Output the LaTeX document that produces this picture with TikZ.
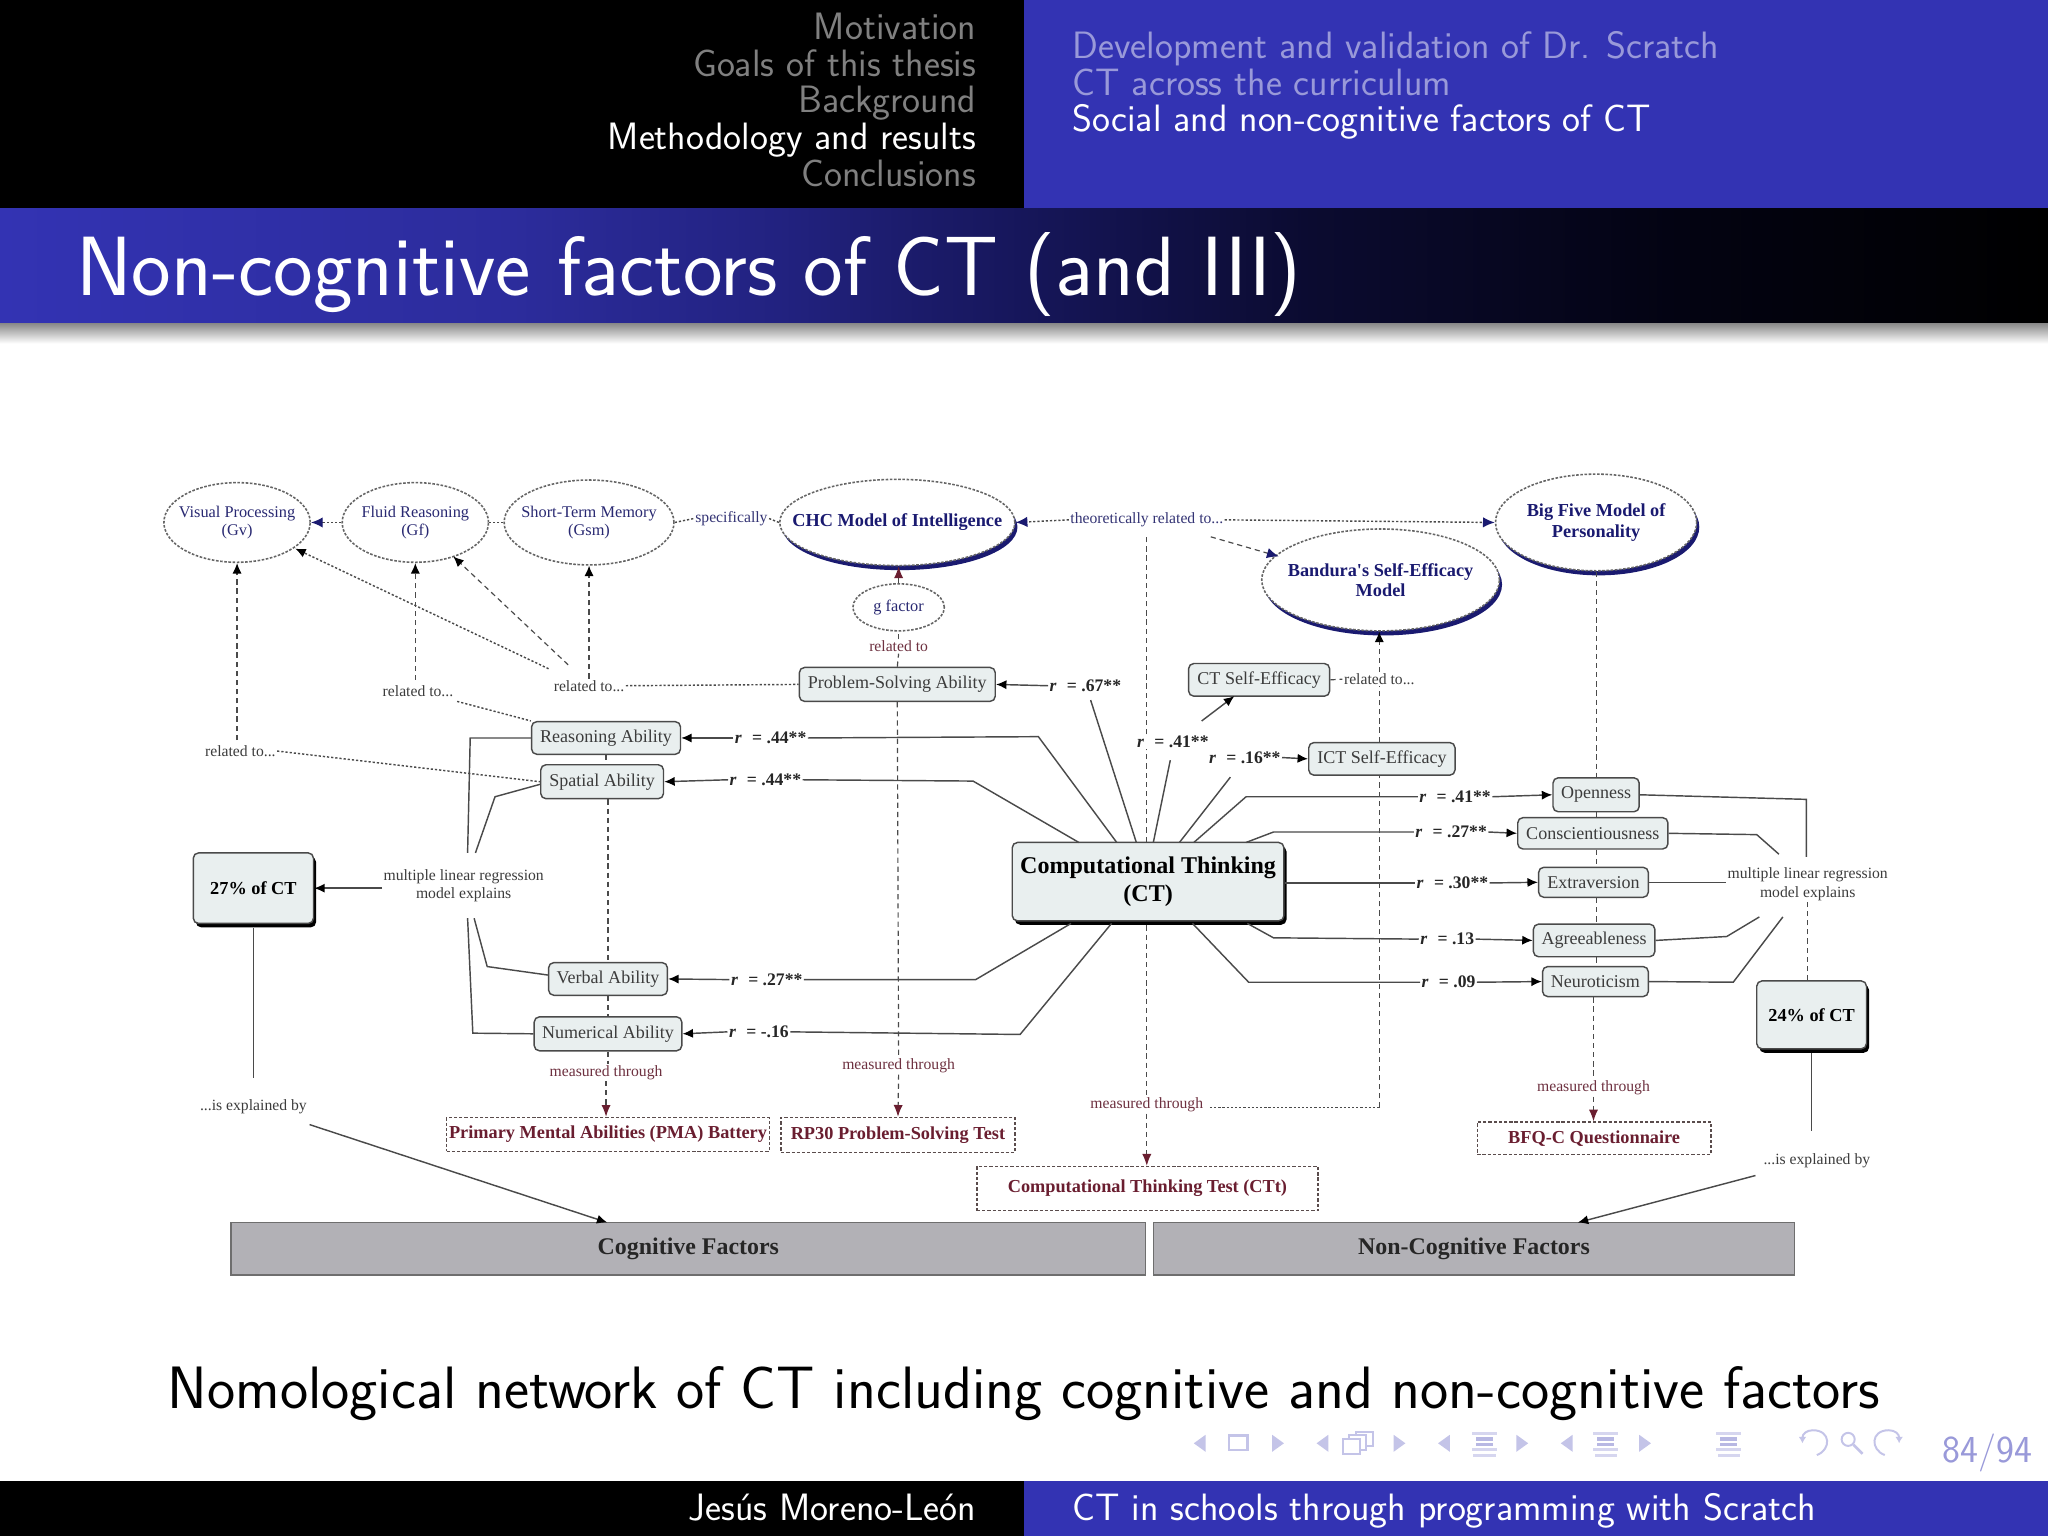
\documentclass[tikz,border=0pt]{standalone}
\usepackage{fontspec}
\usetikzlibrary{arrows.meta,shapes.geometric,shadows}
\newfontfamily\dia{Liberation Serif}
\definecolor{bluebar}{HTML}{3333B3}
\definecolor{fadeblue}{HTML}{9999D9}
\definecolor{navc}{HTML}{C4C4E8}
\definecolor{hdgray}{HTML}{808080}
\definecolor{boxfill}{HTML}{E9EFEF}
\definecolor{barfill}{HTML}{B2B1B6}
\definecolor{linec}{HTML}{4A4A4A}
\definecolor{navyd}{HTML}{1A1A70}
\definecolor{redd}{HTML}{6A1E30}
\definecolor{labc}{HTML}{3C3C3C}
\definecolor{testline}{HTML}{5A4C4C}
\definecolor{gradA}{HTML}{2C2C9C}
\definecolor{gradB}{HTML}{222280}
\definecolor{gradC}{HTML}{16165A}
\definecolor{gradD}{HTML}{0B0B30}
\definecolor{gradE}{HTML}{030312}
\pgfdeclarehorizontalshading{titlegrad}{100bp}{color(0bp)=(bluebar); color(25bp)=(bluebar); color(37.5bp)=(gradA); color(44bp)=(gradB); color(50bp)=(gradC); color(57bp)=(gradD); color(66bp)=(gradE); color(75bp)=(black); color(100bp)=(black)}
\newcommand\SlideFont[1]{\sffamily\fontsize{#1}{#1}\selectfont}
\newcommand\DiaFont[2]{\dia\fontsize{#1}{#2}\selectfont}
\newcommand\NavL[2]{\fill[navc] (#1,#2) -- (#1+9,#2-6.5) -- (#1+9,#2+6.5) -- cycle;}
\newcommand\NavR[2]{\fill[navc] (#1,#2) -- (#1-9,#2-6.5) -- (#1-9,#2+6.5) -- cycle;}
\newcommand\NavLines[2]{%
 \fill[navc!70] (#1,#2-9) rectangle (#1+19,#2-6.5);
 \fill[navc!120] (#1+3,#2-4.5) rectangle (#1+16,#2-2);
 \fill[navc!120] (#1+3,#2-0.5) rectangle (#1+16,#2+2);
 \fill[navc!70] (#1,#2+3.5) rectangle (#1+19,#2+6);
 \fill[navc!70] (#1+1,#2+8) rectangle (#1+18,#2+10.5);}
\tikzset{
 x=1pt,y=-1pt,
 hdl/.style={anchor=base east,inner sep=0pt,text=hdgray,font=\SlideFont{29.2}},
 hdr/.style={anchor=base west,inner sep=0pt,text=fadeblue,font=\SlideFont{29.2}},
 ell/.style={ellipse,draw=linec!85,dash pattern=on 2pt off 1.2pt,line width=1.2pt,fill=white,inner sep=-30pt,align=center,text=navyd!85!gray,font=\DiaFont{12.5}{14}},
 model/.style={ell,copy shadow={shadow xshift=2pt,shadow yshift=-3.5pt,fill=navyd,draw=none,solid},text=navyd,font=\DiaFont{14}{15.5}\bfseries},
 rbox/.style={rectangle,rounded corners=4pt,draw=linec,line width=1.1pt,fill=boxfill,inner sep=0pt,text=labc,font=\DiaFont{13.8}{15}},
 bigbox/.style={rbox,copy shadow={shadow xshift=2pt,shadow yshift=-3pt,fill=black,draw=none},text=black,font=\DiaFont{14}{15}\bfseries,align=center},
 testbox/.style={rectangle,draw=testline,dash pattern=on 2.5pt off 1.5pt,line width=1pt,fill=white,inner sep=0pt,text=redd,font=\DiaFont{14}{15}\bfseries},
 factor/.style={rectangle,draw=linec!80,line width=1.2pt,fill=barfill,inner sep=0pt,text=black!85,font=\DiaFont{18.3}{20}\bfseries},
 lab/.style={inner sep=1pt,text=labc,align=center,font=\DiaFont{12}{14}},
 redlab/.style={lab,text=redd!80!gray},
 bluelab/.style={lab,text=navyd!75!gray},
 rlab/.style={inner sep=1pt,text=black!85,font=\DiaFont{13.5}{15}\bfseries},
 solidl/.style={draw=linec,line width=1.1pt},
 dashl/.style={draw=linec,line width=.9pt,dash pattern=on 4pt off 3pt},
 dotl/.style={draw=linec,line width=1.1pt,dash pattern=on 1.7pt off 1.5pt},
 tip/.style={-{Latex[length=8pt,width=7pt,color=black]}},
 redtip/.style={-{Latex[length=9pt,width=7pt,color=redd]}},
 bluetip/.style={-{Latex[length=9pt,width=8pt,color=navyd]}},
 poly/.style={solidl},
}
\begin{document}
\begin{tikzpicture}
\useasboundingbox (0,0) rectangle (1568,1176);
\fill[white] (0,0) rectangle (1568,1176);
% slide chrome
\fill[black] (0,0) rectangle (784,160);
\fill[bluebar] (784,0) rectangle (1568,160);
\shade[shading=titlegrad] (0,160) rectangle (1568,248);
\shade[top color=black!45,bottom color=white] (0,248) rectangle (1568,263);
\fill[black] (0,1134) rectangle (784,1176);
\fill[bluebar] (784,1134) rectangle (1568,1176);
\node[hdl] (h1) at (747.5,30.5) {Motivation};
\node[hdl] (h2) at (747.5,58.5) {Goals of this thesis};
\node[hdl] (h3) at (747.5,86.5) {Background};
\node[hdl,text=white] (h4) at (747.5,114.5) {Methodology and results};
\node[hdl] (h5) at (747.5,142.5) {Conclusions};
\node[hdr] (s1) at (821,45) {Development and validation of Dr. Scratch};
\node[hdr] (s2) at (821,73) {CT across the curriculum};
\node[hdr,text=white] (s3) at (821,101) {Social and non-cognitive factors of CT};
\node[anchor=base west,inner sep=0pt,text=white,font=\SlideFont{64.4}] (title) at (58,226) {Non-cognitive factors of CT (and III)};
\node[anchor=base,inner sep=0pt,text=black,font=\SlideFont{45.8}] (caption) at (784,1078) {Nomological network of CT including cognitive and non-cognitive factors};
\node[hdl,text=white] (fa) at (747.5,1164) {Jesús Moreno-León};
\node[hdr,text=white] (ft) at (821,1164) {CT in schools through programming with Scratch};
\node[anchor=base east,inner sep=0pt,text=fadeblue,font=\SlideFont{29.2}] (page) at (1556,1120) {84/94};
% navigation symbols
\NavL{914}{1105}\NavR{983}{1105}
\draw[navc,line width=2pt] (941,1099) rectangle (955,1110);
\NavL{1008}{1105}\NavR{1076}{1105}
\draw[navc,line width=1.5pt,fill=white] (1038,1096) rectangle (1051,1107);
\draw[navc,line width=1.5pt,fill=white] (1033,1099) rectangle (1046,1110);
\draw[navc,line width=1.5pt,fill=white] (1028,1102) rectangle (1041,1113);
\NavL{1101}{1105}\NavR{1170}{1105}\NavLines{1127}{1105}
\NavL{1195}{1105}\NavR{1264}{1105}\NavLines{1220}{1105}
\NavLines{1314}{1105}
\draw[navc,line width=1.5pt,-{Latex[length=5pt,width=6pt]}] (1391,1114) .. controls (1402,1110) and (1402,1095) .. (1388,1095) .. controls (1383,1095) and (1380,1098) .. (1380,1105);
\draw[navc,line width=1.5pt] (1415,1102) circle[radius=5];
\draw[navc,line width=2pt] (1419,1106) -- (1426,1113);
\draw[navc,line width=1.5pt,-{Latex[length=5pt,width=6pt]}] (1443,1114) .. controls (1432,1110) and (1432,1095) .. (1446,1095) .. controls (1451,1095) and (1454,1098) .. (1454,1105);
% ellipses
\node[ell,minimum width=112pt,minimum height=61pt] (vp) at (181.5,400) {Visual Processing\\(Gv)};
\node[ell,minimum width=112pt,minimum height=61pt] (fr) at (318,400) {Fluid Reasoning\\(Gf)};
\node[ell,minimum width=130pt,minimum height=65pt] (stm) at (451,400) {Short-Term Memory\\(Gsm)};
\node[model,minimum width=180pt,minimum height=66pt] (chc) at (687,400) {CHC Model of Intelligence};
\node[ell,minimum width=70pt,minimum height=36pt] (g) at (688,465) {g factor};
\node[model,minimum width=154pt,minimum height=74pt] (big) at (1222,400) {Big Five Model of\\Personality};
\node[model,minimum width=182pt,minimum height=78pt] (ban) at (1057,444) {Bandura's Self-Efficacy\\Model};
% rounded boxes
\node[rbox,minimum width=150pt,minimum height=26pt] (ps) at (687,524) {Problem-Solving Ability};
\node[rbox,minimum width=114pt,minimum height=25pt] (rea) at (464,565) {Reasoning Ability};
\node[rbox,minimum width=94pt,minimum height=26pt] (spa) at (461,598.5) {Spatial Ability};
\node[rbox,minimum width=91pt,minimum height=25pt] (ver) at (465.5,749.5) {Verbal Ability};
\node[rbox,minimum width=113pt,minimum height=26pt] (num) at (465.5,791.5) {Numerical Ability};
\node[rbox,minimum width=108pt,minimum height=25pt] (cse) at (964,520.5) {CT Self-Efficacy};
\node[rbox,minimum width=112pt,minimum height=25pt] (ise) at (1058,581) {ICT Self-Efficacy};
\node[rbox,minimum width=66pt,minimum height=26pt] (ope) at (1222,608.5) {Openness};
\node[rbox,minimum width=115pt,minimum height=24pt] (con) at (1219.5,638) {Conscientiousness};
\node[rbox,minimum width=84pt,minimum height=23pt] (ext) at (1220,675.5) {Extraversion};
\node[rbox,minimum width=93pt,minimum height=25pt] (agr) at (1220.5,720) {Agreeableness};
\node[rbox,minimum width=81pt,minimum height=23pt] (neu) at (1221.5,751.5) {Neuroticism};
\node[bigbox,minimum width=92pt,minimum height=54pt] (p27) at (194,680) {27\% of CT};
\node[bigbox,minimum width=84pt,minimum height=52pt] (p24) at (1387,777) {24\% of CT};
\node[bigbox,minimum width=208pt,minimum height=60pt,font=\DiaFont{18.4}{22}\bfseries] (ct) at (879,675) {Computational Thinking\\(CT)};
% test boxes
\node[testbox,minimum width=247pt,minimum height=26pt] (pma) at (465.5,868.5) {Primary Mental Abilities (PMA) Battery};
\node[testbox,minimum width=179pt,minimum height=27pt] (rp) at (687.5,869) {RP30 Problem-Solving Test};
\node[testbox,minimum width=261pt,minimum height=34pt] (ctt) at (878.5,910) {Computational Thinking Test (CTt)};
\node[testbox,minimum width=179pt,minimum height=25pt] (bfq) at (1220.5,871.5) {BFQ-C Questionnaire};
% factor bars
\node[factor,minimum width=700pt,minimum height=40pt] (cog) at (527,956) {Cognitive Factors};
\node[factor,minimum width=491pt,minimum height=40pt] (non) at (1128.5,956) {Non-Cognitive Factors};
% text labels
\node[bluelab] (spec) at (560,397) {specifically};
\node[bluelab] (theo) at (878,398) {theoretically related to...};
\node[lab] (rel1) at (184,575) {related to...};
\node[lab] (rel2) at (320,529) {related to...};
\node[lab] (rel3) at (451,525) {related to...};
\node[redlab] (rel4) at (688,495) {related to};
\node[lab] (rel5) at (1056,520) {related to...};
\node[redlab] (mea1) at (464,821) {measured through};
\node[redlab] (mea2) at (688,816) {measured through};
\node[redlab] (mea3) at (878,846) {measured through};
\node[redlab] (mea4) at (1220,833) {measured through};
\node[lab] (mlr1) at (355,678) {multiple linear regression\\model explains};
\node[lab] (mlr2) at (1384,677) {multiple linear regression\\model explains};
\node[lab] (exp1) at (194,847) {...is explained by};
\node[lab] (exp2) at (1391,889) {...is explained by};
\node[rlab] (r67) at (831,525) {\textit{r}\,\, = .67**};
\node[rlab] (r44a) at (590,565) {\textit{r}\,\, = .44**};
\node[rlab] (r44b) at (586,597) {\textit{r}\,\, = .44**};
\node[rlab] (r27a) at (587,750) {\textit{r}\,\, = .27**};
\node[rlab] (r16a) at (581,790) {\textit{r}\,\, = -.16};
\node[rlab] (r41c) at (898,568) {\textit{r}\,\, = .41**};
\node[rlab] (r16b) at (953,580) {\textit{r}\,\, = .16**};
\node[rlab] (r41o) at (1114,610) {\textit{r}\,\, = .41**};
\node[rlab] (r27c) at (1111,637) {\textit{r}\,\, = .27**};
\node[rlab] (r30) at (1112,676) {\textit{r}\,\, = .30**};
\node[rlab] (r13) at (1108,719) {\textit{r}\,\, = .13};
\node[rlab] (r09) at (1109,752) {\textit{r}\,\, = .09};
% free ends and bends
\coordinate (a1) at (855,645); \coordinate (a2) at (795,564);
\coordinate (b1) at (826,645); \coordinate (b2) at (745,598);
\coordinate (c1) at (820,707); \coordinate (c2) at (747,750);
\coordinate (d1) at (851,707); \coordinate (d2) at (781,792);
\coordinate (e1) at (870,645); \coordinate (e2) at (835,536);
\coordinate (f1) at (883,645); \coordinate (f2) at (896,582);
\coordinate (f3) at (920,552); \coordinate (f4) at (945,533);
\coordinate (k1) at (903,645); \coordinate (k2) at (942,595);
\coordinate (m1) at (914,645); \coordinate (m2) at (954,610);
\coordinate (n1) at (954,645); \coordinate (n2) at (975,637);
\coordinate (o1) at (955,707); \coordinate (o2) at (975,718);
\coordinate (q1) at (913,707); \coordinate (q2) at (956,752);
\coordinate (ct1) at (878,410);
\coordinate (u1) at (1383,612); \coordinate (u2) at (1383,656);
\coordinate (v1) at (1345,639); \coordinate (v2) at (1362,654);
\coordinate (w1) at (1322,717); \coordinate (w2) at (1347,702);
\coordinate (y1) at (1327,752); \coordinate (y2) at (1365,702);
\coordinate (l1) at (360,565); \coordinate (l2) at (358,653);
\coordinate (l3) at (379,610); \coordinate (l4) at (364,653);
\coordinate (l5) at (373,740); \coordinate (l6) at (363,703);
\coordinate (l7) at (362,791); \coordinate (l8) at (358,703);
\coordinate (ex1) at (194,825); \coordinate (ex2) at (237,861); \coordinate (ex3) at (465,936);
\coordinate (ey1) at (1387,866); \coordinate (ey2) at (1344,900); \coordinate (ey3) at (1208,936);
\coordinate (th1) at (927,411); \coordinate (th2) at (979,426);
\coordinate (m4) at (1056,848);
\coordinate (r3a) at (435,509); \coordinate (r3b) at (347,426);
\coordinate (r3c) at (420,512); \coordinate (r3d) at (226,420);
\coordinate (r2a) at (350,537);
% dotted / dashed relations
\draw[dotl,bluetip] (fr.west) -- (vp.east);
\draw[dotl] (stm.west) -- (fr.east);
\draw[dotl] (stm.east) -- (spec.west);
\draw[dotl] (spec.east) -- (chc.west);
\draw[dotl,bluetip] (theo.west) -- (chc.east);
\draw[dotl,bluetip] (theo.east) -- (big.west);
\draw[dashl,bluetip] (th1) -- (th2);
\draw[dashl,tip] (rel1.north -| vp.south) ++(0,-3) -- (vp.south);
\draw[dotl] (rel1.east) -- (spa.west);
\draw[dashl,tip] (rel2.north -| fr.south) ++(0,-3) -- (fr.south);
\draw[dotl] (r2a) -- (rea.north west);
\draw[dashl,tip] (rel3.north -| stm.south) -- (stm.south);
\draw[dashl,tip] (r3a) -- (r3b);
\draw[dotl,tip] (r3c) -- (r3d);
\draw[dotl] (rel3.east) -- (ps.west);
\draw[dashl] (ps.north) -- (rel4.south);
\draw[dashl] (rel4.north) -- (g.south);
\draw[dashl,redtip] (g.north) -- (g.north |- chc.south);
\draw[dashl] (ps.south) -- (mea2.north);
\draw[dashl,redtip] (mea2.south) -- (rp.north);
\draw[dashl] (rea.south) -- (rea.south |- spa.north);
\draw[dashl] (spa.south -| ver.north) -- (ver.north);
\draw[dashl] (ver.south) -- (ver.south |- num.north);
\draw[dashl] (num.south) -- (num.south |- mea1.north);
\draw[dashl,redtip] (mea1.south) -- (mea1.south |- pma.north);
\draw[dashl] (ct.north -| ct1) -- (r41c.south -| ct1);
\draw[dashl] (r41c.north -| ct1) -- (ct1);
\draw[dashl] (ct.south -| mea3.north) ++(0,3) -- (mea3.north);
\draw[dashl,redtip] (mea3.south) -- (ctt.north -| mea3.south);
\draw[dotl] (mea3.east) ++(4,2) -- (m4);
\draw[dashl] (m4) -- (ise.south -| m4);
\draw[dashl] (ise.north -| m4) -- (rel5.south -| m4);
\draw[dashl,tip] (rel5.north) -- (rel5.north |- ban.south);
\draw[dashl] (cse.east) -- (rel5.west);
\draw[dashl] (big.south) -- (big.south |- ope.north);
\draw[dashl] (ope.south) -- (ope.south |- con.north);
\draw[dashl] (con.south -| ope.south) -- (ext.north -| ope.south);
\draw[dashl] (ext.south -| ope.south) -- (agr.north -| ope.south);
\draw[dashl] (agr.south -| ope.south) -- (neu.north -| ope.south);
\draw[dashl] (neu.south -| mea4.north) -- (mea4.north);
\draw[dashl,redtip] (mea4.south) -- (bfq.north -| mea4.south);
\draw[dashl] (p24.north -| mlr2.south) -- (mlr2.south);
% solid: CT to its correlates
\draw[poly] (a1) -- (a2) -- (r44a.east); \draw[solidl,tip] (r44a.west) -- (rea.east);
\draw[poly] (b1) -- (b2) -- (r44b.east); \draw[solidl,tip] (r44b.west) -- (spa.east);
\draw[poly] (c1) -- (c2) -- (r27a.east); \draw[solidl,tip] (r27a.west) -- (ver.east);
\draw[poly] (d1) -- (d2) -- (r16a.east); \draw[solidl,tip] (r16a.west) -- (num.east);
\draw[poly] (e1) -- (e2); \draw[solidl,tip] (r67.west) -- (ps.east);
\draw[poly] (f1) -- (f2); \draw[solidl,tip] (f3) -- (f4);
\draw[poly] (k1) -- (k2); \draw[solidl,tip] (r16b.east) -- (ise.west);
\draw[poly] (m1) -- (m2) -- (r41o.west); \draw[solidl,tip] (r41o.east) -- (ope.west);
\draw[poly] (n1) -- (n2) -- (r27c.west); \draw[solidl,tip] (r27c.east) -- (con.west);
\draw[poly] (ct.east |- r30) -- (r30.west); \draw[solidl,tip] (r30.east) -- (ext.west);
\draw[poly] (o1) -- (o2) -- (r13.west); \draw[solidl,tip] (r13.east) -- (agr.west);
\draw[poly] (q1) -- (q2) -- (r09.west); \draw[solidl,tip] (r09.east) -- (neu.west);
% regressions
\draw[poly] (ope.east) -- (u1) -- (u2);
\draw[poly] (con.east) -- (v1) -- (v2);
\draw[poly] (ext.east) -- (mlr2.west |- ext.east);
\draw[poly] (agr.east) -- (w1) -- (w2);
\draw[poly] (neu.east) -- (y1) -- (y2);
\draw[poly] (rea.west) -- (l1) -- (l2);
\draw[poly] (spa.west) ++(0,2) -- (l3) -- (l4);
\draw[poly] (ver.west) ++(0,-3) -- (l5) -- (l6);
\draw[poly] (num.west) -- (l7) -- (l8);
\draw[solidl,tip] (mlr1.west |- p27.east) -- (p27.east);
\draw[solidl] (p27.south) ++(0,3) -- (ex1);
\draw[solidl,tip] (ex2) -- (ex3);
\draw[solidl] (p24.south) ++(0,3) -- (ey1);
\draw[solidl,tip] (ey2) -- (ey3);
\end{tikzpicture}
\end{document}
